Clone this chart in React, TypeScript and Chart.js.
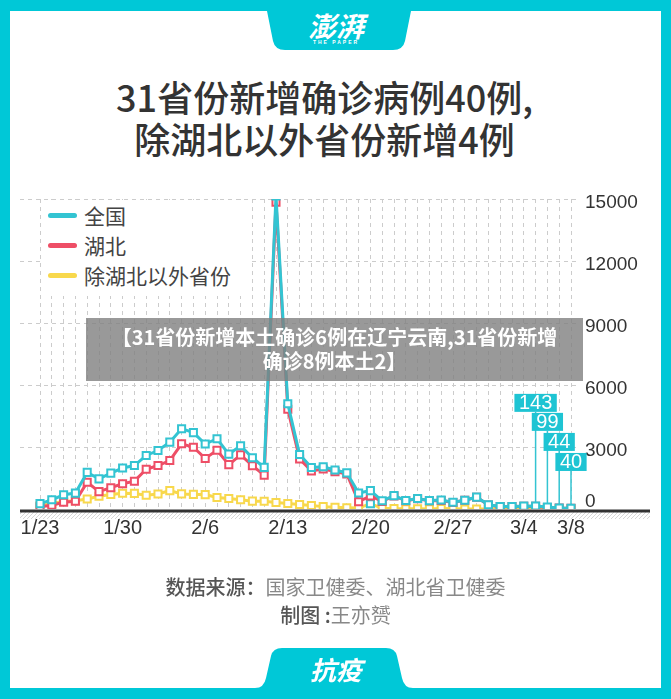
import React, { useEffect, useRef } from "react";
import { Chart, registerables } from "chart.js";

Chart.register(...registerables);

const dates = [
  "1/23", "1/24", "1/25", "1/26", "1/27", "1/28", "1/29", "1/30", "1/31",
  "2/1", "2/2", "2/3", "2/4", "2/5", "2/6", "2/7", "2/8", "2/9", "2/10",
  "2/11", "2/12", "2/13", "2/14", "2/15", "2/16", "2/17", "2/18", "2/19", "2/20",
  "2/21", "2/22", "2/23", "2/24", "2/25", "2/26", "2/27", "2/28", "2/29",
  "3/1", "3/2", "3/3", "3/4", "3/5", "3/6", "3/7", "3/8",
];

const nationalCases = [
  259, 444, 688, 769, 1771, 1459, 1737, 1982, 2102,
  2590, 2829, 3235, 3887, 3694, 3143, 3399, 2656, 3062, 2478,
  2015, 15152, 5090, 2641, 2009, 2048, 1886, 1749, 770, 889,
  397, 648, 409, 508, 406, 433, 327, 427, 573,
  202, 125, 119, 139, 143, 99, 44, 40,
];

const hubeiCases = [
  105, 180, 323, 371, 1291, 840, 1032, 1220, 1347,
  1921, 2103, 2345, 3156, 2987, 2447, 2841, 2147, 2618, 2097,
  1638, 14840, 4823, 2420, 1843, 1933, 1807, 1693, 349, 631,
  366, 630, 398, 499, 401, 409, 318, 423, 570,
  196, 114, 115, 134, 126, 74, 41, 36,
];

const outsideHubeiCases = [
  154, 264, 365, 398, 480, 619, 705, 762, 755,
  669, 726, 890, 731, 707, 696, 558, 509, 444, 381,
  377, 312, 267, 221, 166, 115, 79, 56, 45, 258,
  31, 18, 11, 9, 5, 24, 9, 4, 3,
  6, 11, 4, 5, 17, 25, 3, 4,
];

const yTickValues = [0, 3000, 6000, 9000, 12000, 15000];
const xTickLabels = ["1/23", "1/30", "2/6", "2/13", "2/20", "2/27", "3/4", "3/8"];
const calloutDates = ["3/5", "3/6", "3/7", "3/8"];
const highlightDates = ["2/20"];
const seriesNames = ["全国", "湖北", "除湖北以外省份"];

const FRAME = "#00C8D7";
const TEAL = "#33C4D2";
const RED = "#EE4E66";
const YELLOW = "#F8D84C";
const GRID = "#cccccc";
const CJK = "'Noto Sans CJK SC', 'Noto Sans', sans-serif";
const LATIN = "'Liberation Sans', Arial, sans-serif";
const seriesColors = [TEAL, RED, YELLOW];

const decorPlugin = {
  id: "decor",
  beforeDatasetsDraw(chart: any) {
    const { ctx } = chart;
    const y = chart.scales.y;
    ctx.save();
    ctx.strokeStyle = GRID;
    ctx.lineWidth = 1;
    ctx.setLineDash([4, 4]);
    yTickValues.forEach((v) => {
      if (v === 0) return;
      const py = Math.round(y.getPixelForValue(v)) + 0.5;
      ctx.beginPath();
      ctx.moveTo(20, py);
      ctx.lineTo(578, py);
      ctx.stroke();
    });
    ctx.setLineDash([]);
    const y0 = y.getPixelForValue(0);
    ctx.beginPath();
    ctx.rect(20, y0 + 3, 630, 7);
    ctx.clip();
    ctx.strokeStyle = "#d6d6d6";
    ctx.beginPath();
    for (let x = 10; x < 665; x += 4) {
      ctx.moveTo(x, y0 + 11);
      ctx.lineTo(x + 8, y0 + 3);
    }
    ctx.stroke();
    ctx.restore();
    ctx.save();
    ctx.fillStyle = "#333";
    ctx.fillRect(20, y0 + 0.5, 630, 3);
    // zero tick label sits just above the axis line
    ctx.font = `19px ${LATIN}`;
    ctx.fillStyle = "#333";
    ctx.textAlign = "left";
    ctx.textBaseline = "middle";
    ctx.fillText(String(yTickValues[0]), y.left + 14, y0 - 7);
    ctx.restore();
  },
  afterDatasetsDraw(chart: any) {
    const { ctx } = chart;
    const y = chart.scales.y;
    const meta = chart.getDatasetMeta(0);
    const levels = [4700, 3780, 2810, 1840];
    ctx.save();
    ctx.font = `20px ${LATIN}`;
    calloutDates.forEach((d, i) => {
      const idx = dates.indexOf(d);
      const pt = meta.data[idx];
      const text = String(nationalCases[idx]);
      const w = ctx.measureText(text).width + 9;
      const bottom = y.getPixelForValue(levels[i]);
      const h = 18;
      ctx.strokeStyle = TEAL;
      ctx.lineWidth = 1.5;
      ctx.beginPath();
      ctx.moveTo(pt.x, bottom);
      ctx.lineTo(pt.x, pt.y - 4);
      ctx.stroke();
      ctx.fillStyle = "#1EC4D3";
      ctx.fillRect(pt.x - w / 2, bottom - h, w, h);
      ctx.fillStyle = "#fff";
      ctx.textAlign = "center";
      ctx.textBaseline = "middle";
      ctx.fillText(text, pt.x, bottom - h / 2 + 1);
    });
    ctx.restore();
  },
};

export default function App() {
  const ref = useRef<HTMLCanvasElement | null>(null);

  useEffect(() => {
    if (!ref.current) return;
    const mk = (label: string, data: number[], color: string, order: number, pointColors?: string[]) => ({
      label,
      data,
      borderColor: color,
      backgroundColor: color,
      borderWidth: 3,
      pointStyle: "rect",
      pointRadius: 5,
      pointBorderWidth: 2,
      pointBackgroundColor: "#ffffff",
      pointBorderColor: pointColors || color,
      tension: 0,
      order,
    });
    const yellowPoints = dates.map((d) => (highlightDates.includes(d) ? TEAL : YELLOW));
    const chart = new Chart(ref.current, {
      type: "line",
      data: {
        labels: dates,
        datasets: [
          mk(seriesNames[0], nationalCases, TEAL, 0),
          mk(seriesNames[1], hubeiCases, RED, 1),
          mk(seriesNames[2], outsideHubeiCases, YELLOW, 2, yellowPoints),
        ],
      },
      options: {
        responsive: false,
        animation: false,
        layout: { padding: { left: 40, top: 199, right: 10, bottom: 150 } },
        plugins: { legend: { display: false }, tooltip: { enabled: false } },
        scales: {
          x: {
            grid: { display: true, color: GRID, drawTicks: false, lineWidth: 1 },
            border: { display: false, dash: [4, 4] },
            ticks: {
              autoSkip: false,
              maxRotation: 0,
              padding: 7,
              color: "#333",
              font: { family: LATIN, size: 20 },
              callback: (_v: any, i: number) => (xTickLabels.includes(dates[i]) ? dates[i] : ""),
            },
            afterFit: (s: any) => {
              s.height = 40;
            },
          },
          y: {
            position: "right",
            min: 0,
            max: 15000,
            grid: { display: false, drawTicks: false },
            border: { display: false },
            ticks: {
              stepSize: 3000,
              padding: 14,
              labelOffset: 4,
              color: "#333",
              font: { family: LATIN, size: 19 },
              callback: (v: any) => (Number(v) === 0 ? "" : String(v)),
            },
            afterFit: (s: any) => {
              s.width = 90;
            },
          },
        },
      },
      plugins: [decorPlugin],
    } as any);
    return () => chart.destroy();
  }, []);

  return (
    <div
      style={{
        position: "absolute",
        left: 0,
        top: 0,
        width: 671,
        height: 699,
        background: FRAME,
        overflow: "hidden",
        fontFamily: CJK,
      }}
    >
      <div style={{ position: "absolute", left: 10, top: 11, width: 651, height: 677, background: "#fff" }} />
      <svg style={{ position: "absolute", left: 0, top: 0 }} width={671} height={699}>
        <path d="M261 11 L267 11 L273 41 Q275 50 285 50 L393 50 Q403 50 405 41 L411 11 L417 11 Z" fill={FRAME} />
        <path d="M255 688 Q264 688 266 678 L271 656 Q273 648 282 648 L386 648 Q395 648 397 656 L402 678 Q404 688 413 688 Z" fill={FRAME} />
      </svg>
      <div
        style={{
          position: "absolute",
          left: 286,
          top: 10,
          width: 100,
          textAlign: "center",
          color: "#fff",
          fontSize: 28,
          lineHeight: "30px",
          fontWeight: 700,
          fontStyle: "italic",
        }}
      >
        澎湃
      </div>
      <div
        style={{
          position: "absolute",
          left: 286,
          top: 39,
          width: 100,
          textAlign: "center",
          color: "#fff",
          fontSize: 5,
          lineHeight: "7px",
          letterSpacing: 2,
          fontFamily: LATIN,
          fontWeight: 700,
        }}
      >
        THE PAPER
      </div>
      <div
        style={{
          position: "absolute",
          left: -11,
          top: 75,
          width: 671,
          textAlign: "center",
          fontSize: 36,
          lineHeight: "42px",
          color: "#333",
          fontWeight: 500,
        }}
      >
        31省份新增确诊病例40例,
        <br />
        除湖北以外省份新增4例
      </div>
      <canvas ref={ref} width={671} height={699} style={{ position: "absolute", left: 0, top: 0 }} />
      <div
        style={{
          position: "absolute",
          left: 41,
          top: 200,
          width: 211,
          height: 96,
          background: "#fff",
        }}
      >
        {seriesNames.map((n, i) => (
          <div key={n} style={{ position: "relative", height: 30, lineHeight: "30px", fontSize: 21, color: "#444", whiteSpace: "nowrap" }}>
            <span
              style={{
                position: "absolute",
                left: 7,
                top: 13,
                width: 29,
                height: 5,
                borderRadius: 3,
                background: seriesColors[i],
              }}
            />
            <span style={{ position: "absolute", left: 43, top: 0 }}>{n}</span>
          </div>
        ))}
      </div>
      <div
        style={{
          position: "absolute",
          left: 86,
          top: 318,
          width: 497,
          height: 63,
          boxSizing: "border-box",
          paddingTop: 7,
          background: "rgba(128,128,128,0.8)",
          color: "#fff",
          fontSize: 20,
          lineHeight: "24px",
          fontWeight: 700,
          textAlign: "center",
          whiteSpace: "nowrap",
        }}
      >
        【31省份新增本土确诊6例在辽宁云南,31省份新增
        <br />
        确诊8例本土2】
      </div>
      <div
        style={{
          position: "absolute",
          left: 0,
          top: 573,
          width: 671,
          textAlign: "center",
          fontSize: 20,
          lineHeight: "28px",
          whiteSpace: "nowrap",
        }}
      >
        <span style={{ color: "#555", fontWeight: 500 }}>数据来源：</span>
        <span style={{ color: "#888" }}>国家卫健委、湖北省卫健委</span>
        <br />
        <span style={{ color: "#555", fontWeight: 500 }}>制图 :</span>
        <span style={{ color: "#888" }}>王亦赟</span>
      </div>
      <div
        style={{
          position: "absolute",
          left: 286,
          top: 654,
          width: 100,
          textAlign: "center",
          color: "#fff",
          fontSize: 26,
          lineHeight: "30px",
          fontWeight: 700,
          fontStyle: "italic",
        }}
      >
        抗疫
      </div>
    </div>
  );
}
